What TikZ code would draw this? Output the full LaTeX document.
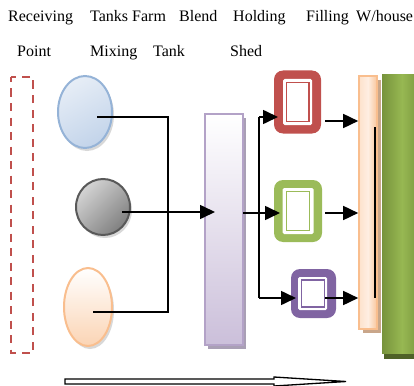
\documentclass[tikz,border=0pt]{standalone}
\usepackage{fontspec}
\setmainfont{Liberation Serif}
\usetikzlibrary{arrows.meta,shapes.geometric}

\definecolor{bracketred}{HTML}{C0504D}
\definecolor{blueA}{HTML}{E6EDF6}
\definecolor{blueB}{HTML}{C3D4EA}
\definecolor{blueD}{HTML}{95B3D7}
\definecolor{grayA}{HTML}{D4D4D4}
\definecolor{grayB}{HTML}{808080}
\definecolor{grayD}{HTML}{595959}
\definecolor{peachB}{HTML}{FBD4B4}
\definecolor{peachD}{HTML}{F9BE8E}
\definecolor{lavB}{HTML}{CBBFDA}
\definecolor{lavD}{HTML}{B3A2C7}
\definecolor{lavS}{HTML}{A99FB5}
\definecolor{redbox}{HTML}{C0504D}
\definecolor{greenbox}{HTML}{9BBB59}
\definecolor{purplebox}{HTML}{8064A2}
\definecolor{barL}{HTML}{FDE2CC}
\definecolor{barM}{HTML}{FEEEE2}
\definecolor{barR}{HTML}{F9C69C}
\definecolor{barS}{HTML}{C9A68A}
\definecolor{olive}{HTML}{77933C}
\definecolor{oliveM}{HTML}{97B852}
\definecolor{oliveS}{HTML}{4F6228}

\tikzset{
  lbl/.style={anchor=base west, inner sep=0pt},
  tankshape/.style={ellipse, inner sep=0pt, line width=2pt},
  outerbox/.style={rectangle, rounded corners=9pt, inner sep=0pt, fill=#1},
  ringbox/.style={rectangle, rounded corners=1.5pt, inner sep=0pt, fill=white},
  innerbox/.style={rectangle, inner sep=0pt, fill=white, draw=#1, line width=1.6pt},
  flow/.style={line width=1.6pt},
  flowarrow/.style={line width=1.6pt, -{Triangle[length=15pt,width=14pt]}},
  tankshadow/.style={fill=black!30, opacity=0.5},
}

\begin{document}
\begin{tikzpicture}[x=1pt, y=-1pt, font=\fontsize{16}{19}\selectfont]
\useasboundingbox (0,0) rectangle (414,385);
\clip (0,0) rectangle (414,385);

% stage headings
\node[lbl] (h1) at (8,21.7) {Receiving};
\node[lbl] (h2) at (90,21.7) {Tanks Farm};
\node[lbl] (h3) at (179,21.7) {Blend};
\node[lbl] (h4) at (233,21.7) {Holding};
\node[lbl] (h5) at (306,21.7) {Filling};
\node[lbl] (h6) at (356,21.7) {W/house};
\node[lbl] (s1) at (17,56.7) {Point};
\node[lbl] (s2) at (90,56.7) {Mixing};
\node[lbl] (s3) at (153,56.7) {Tank};
\node[lbl] (s4) at (230,56.7) {Shed};

% receiving point
\draw[bracketred, line width=2.4pt, dash pattern=on 8pt off 6.5pt, dash phase=3pt]
  (11,77) rectangle (33,353);

% tank farm: three tanks with soft shadows
\fill[tankshadow] (87,115) ellipse (27pt and 36pt);
\node[tankshape, minimum width=54pt, minimum height=72pt, draw=blueD,
      top color=blueA, bottom color=blueB, shading angle=30] (blue) at (85,112) {};
\fill[tankshadow] (105,210) ellipse (27pt and 28pt);
\node[tankshape, minimum width=54pt, minimum height=56pt, draw=grayD,
      top color=grayA, bottom color=grayB, shading angle=45] (gray) at (103,207) {};
\fill[tankshadow] (90,310) ellipse (24pt and 39pt);
\node[tankshape, minimum width=48pt, minimum height=78pt, draw=peachD,
      top color=white, bottom color=peachB] (peach) at (88,307) {};

% blend tank
\fill[lavS] (208,118) rectangle (246,349);
\node[rectangle, inner sep=0pt, minimum width=38pt, minimum height=231pt,
      draw=lavD, line width=1.5pt, top color=white, bottom color=lavB] (blend) at (224,229.5) {};

% holding shed boxes
\node[outerbox=redbox, minimum width=47pt, minimum height=63pt] (red) at (297.5,102) {};
\node[ringbox, minimum width=29pt, minimum height=46pt] (redring) at (297.5,102) {};
\node[innerbox=redbox, minimum width=22.5pt, minimum height=39pt] (redin) at (297.75,102) {};

\node[outerbox=greenbox, minimum width=48pt, minimum height=62pt] (green) at (298,211) {};
\node[ringbox, minimum width=31pt, minimum height=46pt] (greenring) at (298,211) {};
\node[innerbox=greenbox, minimum width=23pt, minimum height=39pt] (greenin) at (298,211) {};

\node[outerbox=purplebox, minimum width=45pt, minimum height=49pt] (purple) at (313.5,293.5) {};
\node[ringbox, minimum width=29pt, minimum height=33pt] (purplering) at (312.5,293.5) {};
\node[innerbox=purplebox, minimum width=23pt, minimum height=26.5pt] (purplein) at (313,293.5) {};

% filling bar
\fill[barS] (363,80) rectangle (381,333);
\node[rectangle, inner sep=0pt, minimum width=18pt, minimum height=253pt,
      draw=peachD, line width=1.6pt, left color=barL, right color=barR, middle color=barM] (fill) at (368,202.5) {};
\coordinate (fillTop) at (375,127);
\coordinate (fillBot) at (375,298);
\draw[line width=1.8pt] (fillTop) -- (fillBot);

% warehouse
\fill[oliveS] (384,80) rectangle (420,359);
\node[rectangle, inner sep=0pt, minimum width=40pt, minimum height=278pt,
      left color=olive, right color=olive, middle color=oliveM] (wh) at (402,214) {};

% tank farm to blend tank
\coordinate (b0) at (97,117);
\coordinate (b1) at (168,117);
\coordinate (p0) at (93,312);
\coordinate (p1) at (168,312);
\coordinate (g0) at (122,212);
\coordinate (bIn) at (215,212);
\draw[flow] (b0) -- (b1) -- (p1) -- (p0);
\draw[flowarrow] (g0) -- (bIn);

% blend tank to holding shed
\coordinate (t0) at (243,213);
\coordinate (tTop) at (259,117);
\coordinate (tBot) at (259,298);
\coordinate (rIn) at (278,117);
\coordinate (gIn) at (280,213);
\coordinate (pIn) at (296,298);
\draw[flow] (tTop) -- (tBot);
\draw[flowarrow] (t0) -- (gIn);
\draw[flowarrow] (tTop) -- (rIn);
\draw[flowarrow] (tBot) -- (pIn);

% holding shed to filling
\coordinate (rOut) at (325,121);
\coordinate (gOut) at (325,213);
\coordinate (pOut) at (325,298);
\draw[flowarrow] (rOut) -- (rOut -| fill.west);
\draw[flowarrow] (gOut) -- (gOut -| fill.west);
\draw[flowarrow] (pOut) -- (pOut -| fill.west);

% overall flow direction
\draw[line width=1.3pt, fill=white, line join=miter]
  (65,379) -- (274,379) -- (274,377) -- (346,381.5) -- (274,386) -- (274,384) -- (65,384) -- cycle;
\end{tikzpicture}
\end{document}
